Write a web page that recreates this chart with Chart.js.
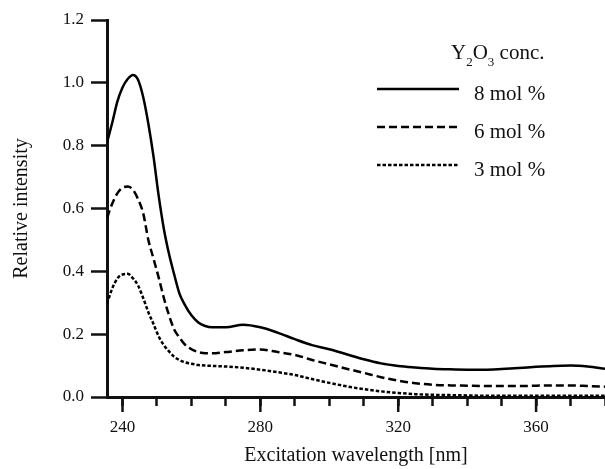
<!DOCTYPE html>
<html>
<head>
<meta charset="utf-8">
<script src="https://cdn.jsdelivr.net/npm/chart.js@4/dist/chart.umd.min.js"></script>
<style>
  body { margin: 0; background: #fff; }
  #wrap { width: 605px; height: 469px; }
</style>
</head>
<body>
<div id="wrap"><canvas id="myChart" width="605" height="469"></canvas></div>
<script>
// wavelength sample points [nm]
const wavelengths = [235.5, 237, 238.5, 240, 241.5, 243, 244.5, 246, 247.5, 249, 250.5, 252, 253.5, 255, 256.5, 258,
  260, 262, 264, 266, 270, 275, 280, 285, 290, 295, 300, 305, 310, 315, 320, 325, 330, 335, 340, 345, 350, 355,
  360, 365, 370, 375, 380];

// relative intensity
const mol8 = [0.81, 0.872, 0.94, 0.985, 1.012, 1.025, 1.01, 0.955, 0.87, 0.765, 0.64, 0.535, 0.455, 0.39, 0.33, 0.295,
  0.26, 0.237, 0.226, 0.222, 0.222, 0.23, 0.222, 0.205, 0.184, 0.165, 0.152, 0.136, 0.12, 0.107, 0.099, 0.094, 0.09,
  0.088, 0.087, 0.087, 0.089, 0.092, 0.096, 0.099, 0.1, 0.097, 0.09];
const mol6 = [0.57, 0.615, 0.648, 0.666, 0.67, 0.66, 0.63, 0.585, 0.50, 0.44, 0.38, 0.315, 0.26, 0.215, 0.19, 0.168,
  0.152, 0.143, 0.139, 0.139, 0.143, 0.149, 0.151, 0.143, 0.134, 0.118, 0.104, 0.09, 0.077, 0.063, 0.052, 0.044,
  0.039, 0.037, 0.036, 0.035, 0.035, 0.035, 0.036, 0.037, 0.037, 0.035, 0.033];
const mol3 = [0.297, 0.345, 0.377, 0.39, 0.392, 0.378, 0.355, 0.315, 0.27, 0.232, 0.193, 0.165, 0.145, 0.128, 0.118,
  0.111, 0.106, 0.102, 0.1, 0.099, 0.097, 0.093, 0.087, 0.079, 0.07, 0.057, 0.045, 0.034, 0.025, 0.018, 0.013, 0.009,
  0.007, 0.006, 0.005, 0.004, 0.004, 0.004, 0.004, 0.004, 0.004, 0.004, 0.004];

const seriesLabels = ['8 mol %', '6 mol %', '3 mol %'];
const xLabelTicks = [240, 280, 320, 360];
const xMinorTicks = [240, 250, 260, 270, 280, 290, 300, 310, 320, 330, 340, 350, 360, 370, 380];
const yTicks = [0, 0.2, 0.4, 0.6, 0.8, 1.0, 1.2];

const serif = 'Liberation Serif';
const ink = '#111';

const toPoints = (ys) => wavelengths.map((x, i) => ({ x: x, y: ys[i] }));

// longer ticks on the labelled wavelengths
const majorTicks = {
  id: 'majorTicks',
  afterDraw(chart) {
    const ctx = chart.ctx;
    const xs = chart.scales.x;
    ctx.save();
    ctx.strokeStyle = ink;
    ctx.lineWidth = 2.5;
    xLabelTicks.forEach(function (v) {
      const px = xs.getPixelForValue(v);
      ctx.beginPath();
      ctx.moveTo(px, xs.top);
      ctx.lineTo(px, xs.top + 15);
      ctx.stroke();
    });
    ctx.restore();
  }
};

// legend drawn inside the plot, top right
const innerLegend = {
  id: 'innerLegend',
  afterDraw(chart) {
    const ctx = chart.ctx;
    const area = chart.chartArea;
    const x0 = area.right - 228;
    ctx.save();
    ctx.fillStyle = ink;
    ctx.textBaseline = 'alphabetic';
    // title Y2O3 conc.
    let tx = x0 + 74;
    const ty = area.top + 39;
    const big = '21px "' + serif + '"';
    const small = '13px "' + serif + '"';
    const parts = [['Y', big, 0], ['2', small, 7], ['O', big, 0], ['3', small, 7], [' conc.', big, 0]];
    parts.forEach(function (p) {
      ctx.font = p[1];
      ctx.fillText(p[0], tx, ty + p[2]);
      tx += ctx.measureText(p[0]).width;
    });
    ctx.font = big;
    chart.data.datasets.forEach(function (ds, i) {
      const ly = area.top + 69 + i * 38;
      ctx.strokeStyle = ds.borderColor;
      ctx.lineWidth = ds.borderWidth;
      ctx.setLineDash(ds.borderDash);
      ctx.beginPath();
      ctx.moveTo(x0, ly);
      ctx.lineTo(x0 + 82, ly);
      ctx.stroke();
      ctx.setLineDash([]);
      ctx.fillText(ds.label, x0 + 97, ly + 11);
    });
    ctx.restore();
  }
};

const makeSet = (label, ys, dash) => ({
  label: label,
  data: toPoints(ys),
  borderColor: '#000',
  borderWidth: 2.5,
  borderDash: dash,
  pointRadius: 0,
  fill: false,
  cubicInterpolationMode: 'monotone'
});

new Chart(document.getElementById('myChart'), {
  type: 'line',
  data: {
    datasets: [
      makeSet(seriesLabels[0], mol8, []),
      makeSet(seriesLabels[1], mol6, [8, 4]),
      makeSet(seriesLabels[2], mol3, [3.5, 2])
    ]
  },
  plugins: [majorTicks, innerLegend],
  options: {
    responsive: false,
    animation: false,
    layout: { padding: { top: 20, right: 0, left: 0, bottom: 0 } },
    plugins: {
      legend: { display: false },
      tooltip: { enabled: false }
    },
    scales: {
      x: {
        type: 'linear',
        min: 235.5,
        max: 380,
        afterBuildTicks: function (scale) {
          scale.ticks = xMinorTicks.map(function (v) { return { value: v }; });
        },
        afterFit: function (scale) {
          scale.height = 72;
          scale.paddingLeft = 0;
          scale.paddingRight = 0;
        },
        grid: {
          drawOnChartArea: false,
          tickLength: 9,
          tickWidth: 2.5,
          tickColor: ink
        },
        border: { display: true, width: 3, color: ink },
        ticks: {
          autoSkip: false,
          maxRotation: 0,
          padding: 11,
          color: ink,
          font: { family: serif, size: 17 },
          callback: function (v) { return xLabelTicks.indexOf(v) >= 0 ? String(v) : ''; }
        },
        title: {
          display: true,
          text: 'Excitation wavelength [nm]',
          color: ink,
          font: { family: serif, size: 20 },
          padding: { top: 0, bottom: 1 }
        }
      },
      y: {
        min: 0,
        max: 1.2,
        afterBuildTicks: function (scale) {
          scale.ticks = yTicks.map(function (v) { return { value: v }; });
        },
        afterFit: function (scale) { scale.width = 107; },
        grid: {
          drawOnChartArea: false,
          tickLength: 16,
          tickWidth: 2.5,
          tickColor: ink
        },
        border: { display: true, width: 3, color: ink },
        ticks: {
          padding: 7,
          color: ink,
          font: { family: serif, size: 17 },
          callback: function (v) { return v.toFixed(1); }
        },
        title: {
          display: true,
          text: 'Relative intensity',
          color: ink,
          font: { family: serif, size: 20 },
          padding: { top: 10, bottom: 0 }
        }
      }
    }
  }
});
</script>
</body>
</html>
